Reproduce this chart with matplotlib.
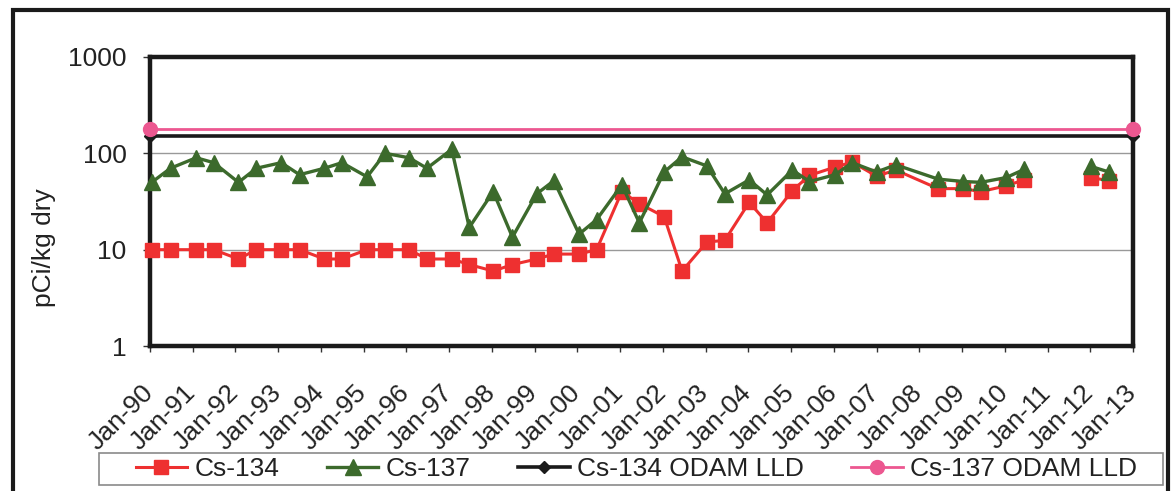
import numpy as np
import matplotlib
matplotlib.use("Agg")
import matplotlib.pyplot as plt
from matplotlib.patches import Rectangle
from matplotlib.lines import Line2D
import matplotlib.transforms as mtransforms

plt.rcParams['font.family'] = ['Liberation Sans', 'DejaVu Sans']

# sample dates as decimal years; NaN marks the gap in sampling (2011)
dates = [1990.04, 1990.48, 1991.08, 1991.49, 1992.07, 1992.49, 1993.07, 1993.50,
         1994.08, 1994.49, 1995.08, 1995.50, 1996.06, 1996.48, 1997.06, 1997.47,
         1998.03, 1998.48, 1999.05, 1999.45, 2000.04, 2000.45, 2001.04, 2001.45,
         2002.03, 2002.45, 2003.03, 2003.45, 2004.02, 2004.44, 2005.03, 2005.43,
         2006.03, 2006.43, 2007.00, 2007.45, 2008.44, 2009.03, 2009.44, 2010.03,
         2010.45, np.nan, 2012.02, 2012.44]

cs134 = [10, 10, 10, 10, 8, 10, 10, 10,
         8, 8, 10, 10, 10, 8, 8, 7,
         6, 7, 8, 9, 9, 10, 40, 30,
         22, 6, 12, 12.5, 31, 19, 41, 59,
         72, 81, 58, 67, 43, 43, 40, 46,
         53, np.nan, 56, 52]

cs137 = [50, 70, 90, 80, 50, 70, 80, 60,
         70, 80, 57, 100, 90, 70, 110, 17,
         40, 13.5, 38, 52, 14.5, 20.5, 47, 19,
         64, 92, 74, 38, 53, 37, 67, 51,
         60, 80, 64, 76, 54, 51, 50, 56,
         68, np.nan, 73, 64]

lld_dates = [1990.0, 2013.0]
cs134_lld = [150, 150]
cs137_lld = [180, 180]

tick_years = list(range(1990, 2014))
tick_labels = ["Jan-%02d" % (y % 100) for y in tick_years]

W, H = 1173, 491
fig = plt.figure(figsize=(W / 100, H / 100), dpi=100)
ax = fig.add_axes([150 / W, 1 - 346 / H, (1133 - 150) / W, (346 - 57) / H])

red = '#EE3030'
green = '#3C6A2C'
pink = '#EC5790'
fs = 19

ax.plot(lld_dates, cs134_lld, color='#1a1a1a', lw=2.6, marker='D', ms=6,
        clip_on=False, zorder=4, label='Cs-134 ODAM LLD')
ax.plot(lld_dates, cs137_lld, color=pink, lw=2.0, marker='o', ms=10,
        clip_on=False, zorder=5, label='Cs-137 ODAM LLD')
ax.plot(dates, cs134, color=red, lw=2.2, marker='s', ms=10.5,
        clip_on=False, zorder=6, label='Cs-134')
ax.plot(dates, cs137, color=green, lw=2.4, marker='^', ms=11,
        clip_on=False, zorder=7, label='Cs-137')

ax.set_yscale('log')
ax.set_ylim(1, 1000)
ax.set_xlim(1990, 2013)
ax.set_yticks([1, 10, 100, 1000])
ax.set_yticklabels(['1', '10', '100', '1000'])
ax.yaxis.set_minor_locator(matplotlib.ticker.NullLocator())
ax.set_xticks(tick_years)
ax.set_xticklabels(tick_labels, rotation=45, ha='right', va='top')
ax.grid(axis='y', which='major', color='#999999', lw=1.0)
ax.set_axisbelow(True)

for s in ax.spines.values():
    s.set_linewidth(3.2)
    s.set_color('#1a1a1a')
    s.set_zorder(3)

ax.tick_params(axis='y', direction='out', length=5, width=1, pad=12,
               labelsize=fs, colors='#333333')
ax.tick_params(axis='x', direction='out', length=4, width=1, pad=21,
               labelsize=fs, colors='#333333')
for lab in ax.get_yticklabels() + ax.get_xticklabels():
    lab.set_color('#222222')

offset = mtransforms.ScaledTranslation(8 / 100, 0, fig.dpi_scale_trans)
for lab in ax.get_xticklabels():
    lab.set_transform(lab.get_transform() + offset)

ax.set_ylabel('pCi/kg dry', fontsize=fs, color='#222222')
ax.yaxis.set_label_coords((56 - 150) / (1133 - 150), 1 - (248 - 57) / (346 - 57))

handles = [
    Line2D([], [], color=red, lw=2.2, marker='s', ms=10.5),
    Line2D([], [], color=green, lw=2.4, marker='^', ms=11),
    Line2D([], [], color='#1a1a1a', lw=2.6, marker='D', ms=6),
    Line2D([], [], color=pink, lw=2.0, marker='o', ms=10),
]
labels = ['Cs-134', 'Cs-137', 'Cs-134 ODAM LLD', 'Cs-137 ODAM LLD']
leg = fig.legend(handles, labels, loc='center', ncol=4, frameon=False,
                 bbox_to_anchor=(636.5 / W, 1 - 469 / H), fontsize=fs,
                 handlelength=1.95, handletextpad=0.28, columnspacing=1.8,
                 borderpad=0.1, labelcolor='#222222')

fig.patches.append(Rectangle((99 / W, 1 - 485 / H), (1163 - 99) / W, 32 / H,
                             transform=fig.transFigure, fill=False,
                             edgecolor='#8a8a8a', lw=1.2))
fig.patches.append(Rectangle((13 / W, -0.05), (1168 - 13) / W, 1 - 10 / H + 0.05,
                             transform=fig.transFigure, fill=False,
                             edgecolor='#1a1a1a', lw=3.0))

fig.savefig('out.png', dpi=100)
